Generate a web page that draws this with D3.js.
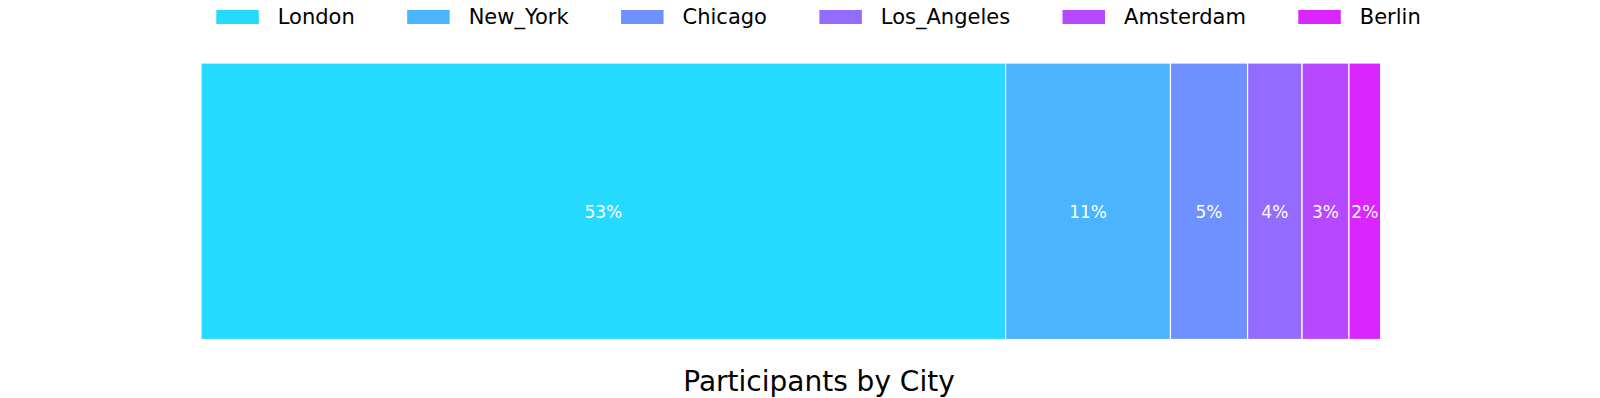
<!DOCTYPE html>
<html>
<head>
<meta charset="utf-8">
<script src="https://cdn.jsdelivr.net/npm/d3@7"></script>
<style>
  body { margin: 0; background: #fff; }
  text { font-family: "DejaVu Sans", sans-serif; }
</style>
</head>
<body>
<div id="drawingArea"></div>
<script>
// cities and their share of participants (percent)
var cities = ["London", "New_York", "Chicago", "Los_Angeles", "Amsterdam", "Berlin"];
var shares = [53.2, 10.9, 5.1, 3.6, 3.1, 2.1];
var colors = ["#26d9ff", "#4bb4ff", "#6e91ff", "#946bff", "#b748ff", "#da25ff"];
var title = "Participants by City";

var width = 1600, height = 398;

var svg = d3.select("#drawingArea").append("svg")
    .attr("width", width)
    .attr("height", height);

// stack the segments one after the other
var data = [];
var acc = 0;
cities.forEach(function(c, i) {
    data.push({city: c, value: shares[i], x0: acc, x1: acc + shares[i], color: colors[i]});
    acc += shares[i];
});

var x = d3.scaleLinear()
    .domain([0, acc])
    .range([201, 1380.7]);

var y = d3.scaleBand()
    .domain(["all"])
    .range([63, 339.5])
    .padding(0);

svg.selectAll(".bar")
    .data(data)
    .enter().append("rect")
    .attr("class", "bar")
    .attr("x", function(d) { return x(d.x0); })
    .attr("width", function(d) { return x(d.x1) - x(d.x0); })
    .attr("y", y("all"))
    .attr("height", y.bandwidth())
    .attr("fill", function(d) { return d.color; })
    .attr("stroke", "#fff")
    .attr("stroke-width", 1.2);

// percent labels sit a bit below the middle of the bar
svg.selectAll(".lbl")
    .data(data)
    .enter().append("text")
    .attr("class", "lbl")
    .attr("x", function(d) { return (x(d.x0) + x(d.x1)) / 2; })
    .attr("y", y("all") + y.bandwidth() / 2 + 17)
    .attr("text-anchor", "middle")
    .attr("fill", "#fff")
    .style("font-size", "17px")
    .text(function(d) { return d3.format(".0f")(d.value) + "%"; });

// legend, one row centred on the figure
var legend = svg.append("g");
var items = legend.selectAll(".item")
    .data(data)
    .enter().append("g")
    .attr("class", "item");

items.append("rect")
    .attr("x", 0)
    .attr("y", 10)
    .attr("width", 42.5)
    .attr("height", 14)
    .attr("fill", function(d) { return d.color; });

items.append("text")
    .attr("x", 61.5)
    .attr("y", 24)
    .style("font-size", "21px")
    .attr("fill", "#000")
    .text(function(d) { return d.city; });

var pos = 0;
var gap = 52.4;
items.each(function() {
    var w = 61.5 + d3.select(this).select("text").node().getComputedTextLength();
    d3.select(this).attr("transform", "translate(" + pos + ",0)");
    pos += w + gap;
});
var total = pos - gap;
legend.attr("transform", "translate(" + (818.5 - total / 2) + ",0)");

svg.append("text")
    .attr("x", 819)
    .attr("y", 391)
    .attr("text-anchor", "middle")
    .style("font-size", "28px")
    .attr("fill", "#000")
    .text(title);
</script>
</body>
</html>
